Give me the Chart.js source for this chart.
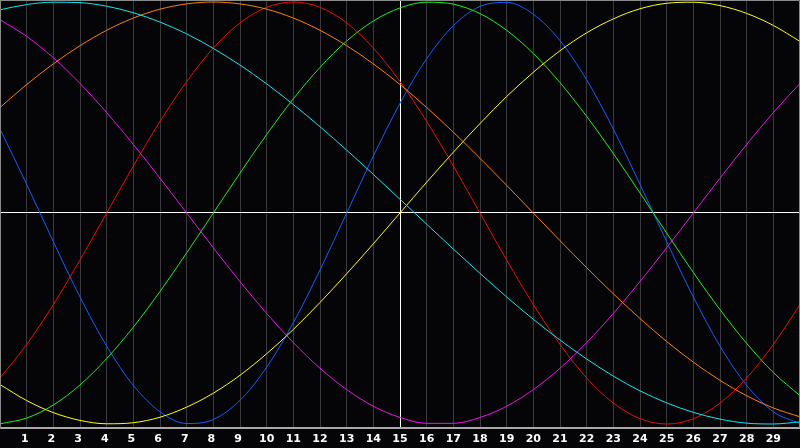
<!doctype html>
<html>
<head>
<meta charset="utf-8">
<title>Biorhythm</title>
<script src="https://cdn.jsdelivr.net/npm/chart.js"></script>
<style>
  html, body { margin: 0; padding: 0; background: #050508; }
  #wrap { width: 800px; height: 448px; }
</style>
</head>
<body>
<div id="wrap"><canvas id="bio" width="800" height="448"></canvas></div>
<script>
// days shown on the chart (today = 15)
const DAYS = [0,1,2,3,4,5,6,7,8,9,10,11,12,13,14,15,16,17,18,19,20,21,22,23,24,25,26,27,28,29,30];
const TICK_DAYS = [1,2,3,4,5,6,7,8,9,10,11,12,13,14,15,16,17,18,19,20,21,22,23,24,25,26,27,28,29];
const TODAY = 15;

// cycle values (-100 .. 100)
const PHYSICAL     = [39.8,13.6,-13.6,-39.8,-63.1,-81.7,-94.2,-99.8,-97.9,-88.8,-73.1,-52.0,-27.0,0,27.0,52.0,73.1,88.8,97.9,99.8,94.2,81.7,63.1,39.8,13.6,-13.6,-39.8,-63.1,-81.7,-94.2,-99.8];
const EMOTIONAL    = [-78.2,-62.3,-43.4,-22.3,0,22.3,43.4,62.3,78.2,90.1,97.5,100,97.5,90.1,78.2,62.3,43.4,22.3,0,-22.3,-43.4,-62.3,-78.2,-90.1,-97.5,-100,-97.5,-90.1,-78.2,-62.3,-43.4];
const INTELLECTUAL = [-99.9,-97.2,-91.0,-81.5,-69.0,-54.1,-37.2,-18.9,0,18.9,37.2,54.1,69.0,81.5,91.0,97.2,99.9,99.0,94.5,86.6,75.6,61.8,45.8,28.2,9.5,-9.5,-28.2,-45.8,-61.8,-75.6,-86.6];
const INTUITIVE    = [91.6,83.7,73.6,61.4,47.6,32.5,16.5,0,-16.5,-32.5,-47.6,-61.4,-73.6,-83.7,-91.6,-96.9,-99.7,-99.7,-96.9,-91.6,-83.7,-73.6,-61.4,-47.6,-32.5,-16.5,0,16.5,32.5,47.6,61.4];
const AESTHETIC    = [-81.3,-88.9,-94.6,-98.3,-99.9,-99.4,-96.8,-92.0,-85.4,-76.9,-66.7,-55.2,-42.4,-28.8,-14.6,0,14.6,28.8,42.4,55.2,66.7,76.9,85.4,92.0,96.8,99.4,99.9,98.3,94.6,88.9,81.3];
const AWARENESS    = [50.0,60.9,70.7,79.3,86.6,92.4,96.6,99.1,100,99.1,96.6,92.4,86.6,79.3,70.7,60.9,50.0,38.3,25.9,13.1,0,-13.1,-25.9,-38.3,-50.0,-60.9,-70.7,-79.3,-86.6,-92.4,-96.6];
const SPIRITUAL    = [96.3,98.8,99.9,99.7,98.0,94.9,90.5,84.9,78.0,70.1,61.2,51.4,40.9,29.8,18.3,6.5,-5.3,-17.1,-28.6,-39.8,-50.4,-60.2,-69.2,-77.3,-84.3,-90.0,-94.5,-97.7,-99.6,-100.0,-99.0];

const SERIES = [
  { label: 'Spiritual',    data: SPIRITUAL,    color: '#12e6f2' },
  { label: 'Awareness',    data: AWARENESS,    color: '#ff8008' },
  { label: 'Aesthetic',    data: AESTHETIC,    color: '#ffff10' },
  { label: 'Intuitive',    data: INTUITIVE,    color: '#f010f0' },
  { label: 'Intellectual', data: INTELLECTUAL, color: '#20f020' },
  { label: 'Emotional',    data: EMOTIONAL,    color: '#f00a0a' },
  { label: 'Physical',     data: PHYSICAL,     color: '#1060ff' }
];

// dark background + frame round the plot area
const framePlugin = {
  id: 'frame',
  beforeDraw(chart) {
    const c = chart.ctx;
    c.save();
    c.fillStyle = '#050508';
    c.fillRect(0, 0, chart.width, chart.height);
    c.restore();
  },
  afterDraw(chart) {
    const a = chart.chartArea, c = chart.ctx;
    c.save();
    c.strokeStyle = '#8a8a8a';
    c.lineWidth = 1;
    c.beginPath();
    c.moveTo(a.left + 0.5, a.bottom);
    c.lineTo(a.left + 0.5, a.top + 0.5);
    c.lineTo(a.right - 0.5, a.top + 0.5);
    c.lineTo(a.right - 0.5, a.bottom);
    c.stroke();
    c.restore();
  }
};

new Chart(document.getElementById('bio').getContext('2d'), {
  type: 'line',
  data: {
    datasets: SERIES.map(s => ({
      label: s.label,
      data: DAYS.map((d, i) => ({ x: d, y: s.data[i] })),
      borderColor: s.color,
      borderWidth: 1,
      pointRadius: 0,
      pointHoverRadius: 0,
      pointHitRadius: 0,
      cubicInterpolationMode: 'monotone',
      capBezierPoints: false,
      fill: false
    }))
  },
  options: {
    responsive: false,
    animation: false,
    devicePixelRatio: 1,
    events: [],
    layout: { padding: 0, autoPadding: false },
    plugins: { legend: { display: false }, tooltip: { enabled: false } },
    scales: {
      x: {
        type: 'linear',
        min: 0, max: 30,
        afterBuildTicks: s => { s.ticks = DAYS.map(d => ({ value: d })); },
        afterFit: s => { s.height = 20; s.paddingLeft = 0; s.paddingRight = 0; },
        grid: {
          drawTicks: false,
          color: ctx => (ctx.tick && ctx.tick.value === TODAY) ? '#ffffff' : '#3a3a3e',
          lineWidth: 1
        },
        border: { color: '#a8a8a8', width: 2 },
        ticks: {
          padding: 5,
          color: '#ffffff',
          font: { family: 'DejaVu Sans', size: 11, weight: 'bold' },
          maxRotation: 0,
          autoSkip: false,
          callback: v => TICK_DAYS.includes(v) ? (v < 10 ? v + ' ' : String(v)) : ''
        }
      },
      y: {
        min: -101.9, max: 100.95,
        afterBuildTicks: s => { s.ticks = [{ value: 0 }]; },
        afterFit: s => { s.width = 0; },
        grid: { drawTicks: false, color: '#ffffff', lineWidth: 1 },
        border: { color: '#8a8a8a', width: 1 },
        ticks: { display: false }
      }
    }
  },
  plugins: [framePlugin]
});
</script>
</body>
</html>
